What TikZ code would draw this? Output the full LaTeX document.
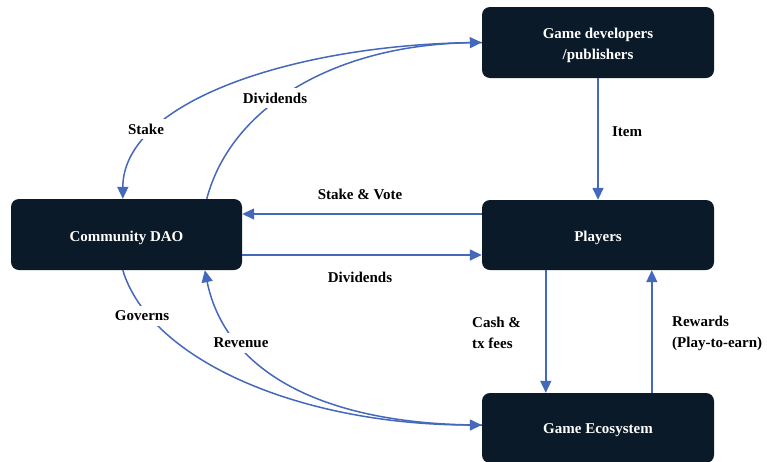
\documentclass[tikz,border=0pt]{standalone}
\usepackage{fontspec}
\setmainfont{Liberation Serif}
\usetikzlibrary{arrows.meta,calc}
\definecolor{boxnavy}{HTML}{0B1A29}
\definecolor{flowblue}{HTML}{4468BC}
\tikzset{
  entity/.style={draw=none, fill=boxnavy, rounded corners=8pt,
    minimum width=232pt, inner sep=0pt},
  entitytext/.style={text=white, inner sep=0pt, align=center,
    font=\fontsize{15}{21}\selectfont\bfseries},
  flow/.style={draw=flowblue, line width=1.5pt,
    -{Triangle[length=12pt,width=11pt]}},
  tag/.style={fill=white, inner sep=5pt, text=black,
    font=\fontsize{15}{19}\selectfont\bfseries},
  sidetag/.style={inner sep=0pt, text=black, align=left, anchor=west,
    font=\fontsize{15}{21}\selectfont\bfseries},
}
\begin{document}
\begin{tikzpicture}[x=1pt, y=-1pt]
\useasboundingbox (0,0) rectangle (767,461);

% boxes
\node[entity, minimum height=71pt] (dev) at (598,42.5) {};
\node[entity, minimum height=70pt] (players) at (598,235) {};
\node[entity, minimum width=231pt, minimum height=71pt] (dao) at (126.5,234.5) {};
\node[entity, minimum height=70pt] (eco) at (598,428) {};

% box captions, set a little below the geometric centre
\node[entitytext] (devtext) at ($(dev.center)+(0,3)$) {Game developers\\/publishers};
\node[entitytext] (playerstext) at ($(players.center)+(0,3)$) {Players};
\node[entitytext] (daotext) at ($(dao.center)+(0,3)$) {Community DAO};
\node[entitytext] (ecotext) at ($(eco.center)+(0,2)$) {Game Ecosystem};

% straight flows
\draw[flow] (dev.south) -- (players.north);
\draw[flow] ($(players.west)+(0,-21)$) -- ($(dao.east)+(0,-20.5)$);
\draw[flow] ($(dao.east)+(0,20.5)$) -- ($(players.west)+(0,20)$);
\draw[flow] ($(players.south west)+(64,0)$) -- ($(eco.north west)+(64,0)$);
\draw[flow] ($(eco.north west)+(170,0)$) -- ($(players.south west)+(170,0)$);

% curved flows
\draw[flow] (dev.west) .. controls (300,43) and (123,100) .. ($(dao.north west)+(112,0)$);
\draw[flow] ($(dao.north west)+(196,0)$) .. controls (230,110) and (330,45) .. (dev.west);
\draw[flow] ($(dao.south west)+(112,0)$) .. controls (150,360) and (300,425) .. ($(eco.west)+(0,-3)$);
\draw[flow] ($(eco.west)+(0,-3)$) .. controls (320,425) and (225,370) .. ($(dao.south west)+(194,0)$);

% labels
\node[tag] (lstake) at (146,129) {Stake};
\node[tag] (ldivtop) at (275,98) {Dividends};
\node[tag] (lstakevote) at (360,194) {Stake \& Vote};
\node[tag] (ldivmid) at (360,277) {Dividends};
\node[tag] (lgov) at (142,316) {Governs};
\node[tag] (lrev) at (241,343) {Revenue};
\node[tag] (litem) at (627,132) {Item};
\node[sidetag] (lcash) at (472,333) {Cash \&\\tx fees};
\node[sidetag] (lrew) at (672,333) {Rewards\\(Play-to-earn)};
\end{tikzpicture}
\end{document}
